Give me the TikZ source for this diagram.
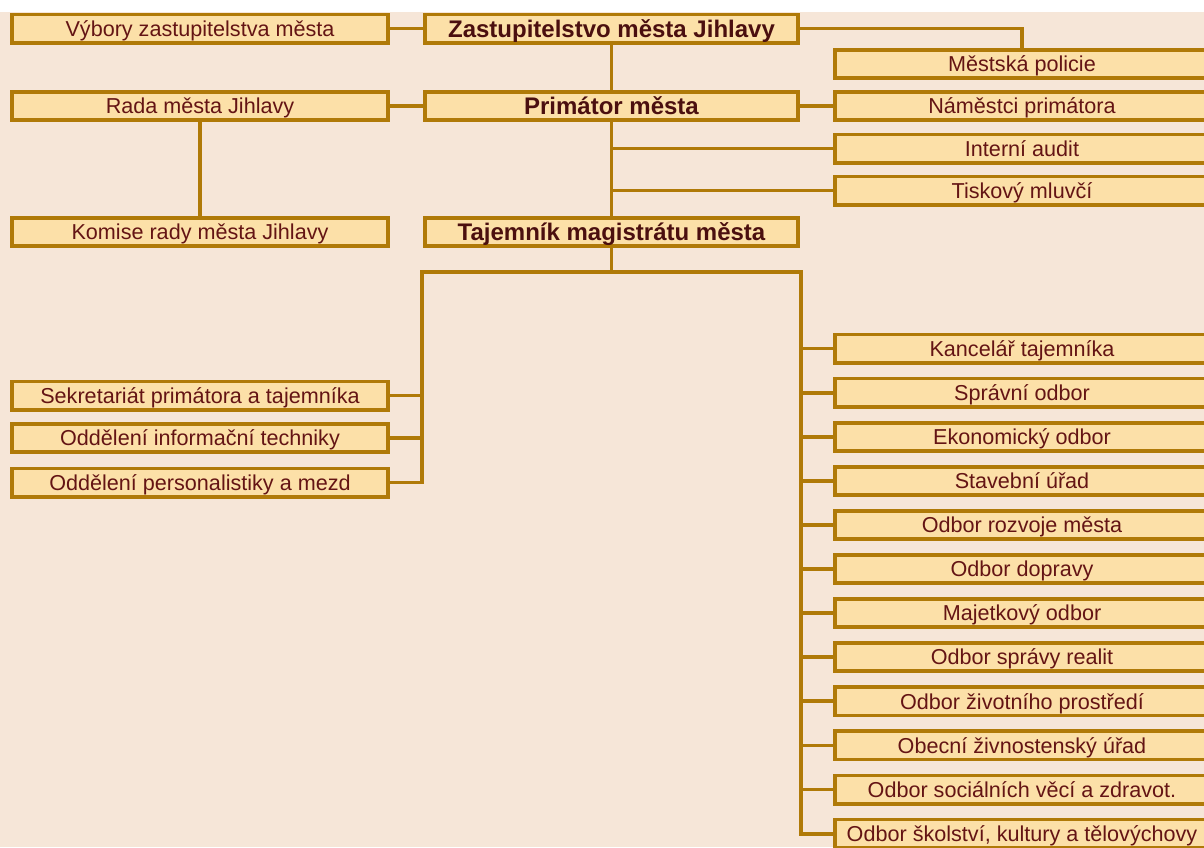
\documentclass[tikz,border=0pt]{standalone}
\usepackage{fontspec}
\setmainfont{Liberation Sans}
\definecolor{pozadi}{HTML}{F6E6D8}
\definecolor{vypln}{HTML}{FCE0A8}
\definecolor{ramec}{HTML}{B07A08}
\definecolor{pismo}{HTML}{641414}
\begin{document}
\begin{tikzpicture}[x=0.5pt, y=-0.5pt, line join=miter,
    box/.style={draw=ramec, fill=vypln, line width=1.9pt, inner sep=0pt, minimum height=14.1pt,
      text height=10pt, text depth=2.3pt, text=pismo, font=\fontsize{10.8}{12}\selectfont},
    hlavni/.style={box, minimum width=186.6pt, text height=10.8pt, text depth=2.2pt,
      text=pismo!75!black, font=\fontsize{12}{13}\selectfont\bfseries},
    levy/.style={box, minimum width=188.1pt},
    pravy/.style={box, minimum width=187.1pt},
    spoj/.style={draw=ramec, line width=1.9pt}]
  \clip (0,0) rectangle (1204,847);
  \fill[white] (0,0) rectangle (1204,12);
  \fill[pozadi] (0,12) rectangle (1204,847);
  % vedeni mesta
  \node[levy] (vybory) at (200,28.5) {Výbory zastupitelstva města};
  \node[hlavni] (zastup) at (611.5,28.5) {Zastupitelstvo města Jihlavy};
  \node[pravy] (policie) at (1022,64) {Městská policie};
  \node[levy] (rada) at (200,106) {Rada města Jihlavy};
  \node[hlavni] (primator) at (611.5,106) {Primátor města};
  \node[pravy] (namestci) at (1022,106) {Náměstci primátora};
  \node[pravy] (audit) at (1022,148.5) {Interní audit};
  \node[pravy] (mluvci) at (1022,190.5) {Tiskový mluvčí};
  \node[levy] (komise) at (200,232) {Komise rady města Jihlavy};
  \node[hlavni] (tajemnik) at (611.5,232) {Tajemník magistrátu města};
  \draw[spoj] (vybory) -- (zastup);
  \draw[spoj] (zastup.east) -| (policie.north);
  \draw[spoj] (zastup) -- (primator);
  \draw[spoj] (rada) -- (primator) -- (namestci);
  \draw[spoj] (rada) -- (komise);
  \draw[spoj] (primator) -- (tajemnik);
  \draw[spoj] (audit.west) -- (audit.west -| primator.south);
  \draw[spoj] (mluvci.west) -- (mluvci.west -| primator.south);
  % magistrat
  \coordinate (L) at (422,272);
  \coordinate (R) at (801,272);
  \draw[spoj] (tajemnik.south) -- (tajemnik.south |- L);
  \node[levy] (sekretariat) at (200,395.5) {Sekretariát primátora a tajemníka};
  \node[levy] (informacni) at (200,438) {Oddělení informační techniky};
  \node[levy] (personal) at (200,482.5) {Oddělení personalistiky a mezd};
  \foreach \n in {sekretariat,informacni}
    \draw[spoj] (\n.east) -- (\n.east -| L);
  \foreach \t [count=\i from 0] in {Kancelář tajemníka, Správní odbor, Ekonomický odbor,
      Stavební úřad, Odbor rozvoje města, Odbor dopravy, Majetkový odbor,
      Odbor správy realit, Odbor životního prostředí, Obecní živnostenský úřad,
      Odbor sociálních věcí a zdravot., {Odbor školství, kultury a tělovýchovy}} {
    \node[pravy] (o\i) at (1022,{348.5+44.1*\i}) {\t};
    \draw[spoj] (o\i.west) -- (o\i.west -| R);
  }
  \draw[spoj] (personal.east) -| (L) -- (R) |- (o11.west);
\end{tikzpicture}
\end{document}
